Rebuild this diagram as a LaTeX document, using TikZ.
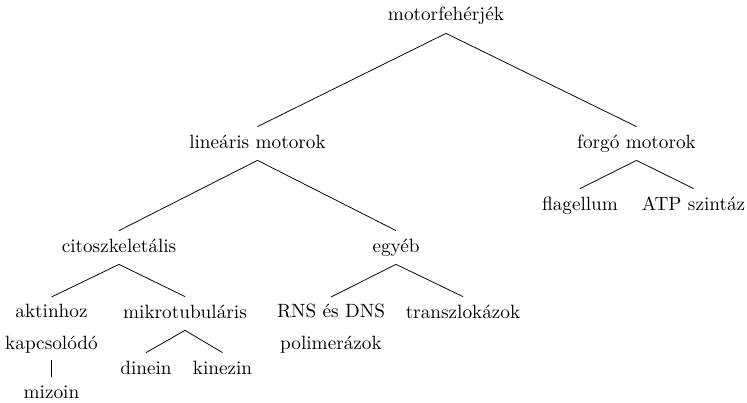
\documentclass[tikz,border=0pt]{standalone}

\begin{document}
\begin{tikzpicture}[x=0.52pt,y=-0.52pt]
\tikzset{KnotStyle/.style ={inner sep=3.33pt, text height=7.6pt, text depth=2.9pt, anchor=base}}
\tikzset{StackStyle/.style ={inner sep=3.33pt, align=center, anchor=north}}
\tikzset{LinkStyle/.style ={color = black, line width=0.4pt}}
\useasboundingbox (0,0) rectangle (747,402);
% levels of the tree
\node[KnotStyle] (motor) at (446,21) {motorfehérjék};
\node[KnotStyle] (linear) at (257.5,148) {lineáris motorok};
\node[KnotStyle] (forgo) at (636.5,148) {forgó motorok};
\node[KnotStyle] (cito) at (119,252) {citoszkeletális};
\node[KnotStyle] (egyeb) at (396,252) {egyéb};
\node[StackStyle] (aktin) at (51.5,297) {aktinhoz\\[4.6pt]kapcsolódó};
\node[KnotStyle] (mikro) at (185,318) {mikrotubuláris};
\node[StackStyle] (rns) at (331,297) {RNS és DNS\\[4.6pt]polimerázok};
\node[KnotStyle] (transz) at (463,318) {transzlokázok};
\node[KnotStyle] (mizoin) at (aktin.south |- 0,398) {mizoin};
\node[KnotStyle] (dinein) at (146,374) {dinein};
\node[KnotStyle] (kinezin) at (222.5,374) {kinezin};
\node[KnotStyle] (flag) at (580,210) {flagellum};
\node[KnotStyle] (atp) at (693.5,210) {ATP szintáz};
% edges
\begin{scope}[LinkStyle]
\draw (motor.south) -- (linear.north);
\draw (motor.south) -- (forgo.north);
\draw (linear.south) -- (cito.north);
\draw (linear.south) -- (egyeb.north);
\draw (forgo.south) -- (flag.north);
\draw (forgo.south) -- (atp.north);
\draw (cito.south) -- (aktin.north);
\draw (cito.south) -- (mikro.north);
\draw (egyeb.south) -- (rns.north);
\draw (egyeb.south) -- (transz.north);
\draw (mikro.south) -- (dinein.north);
\draw (mikro.south) -- (kinezin.north);
\draw (aktin.south) -- (mizoin.north);
\end{scope}
\end{tikzpicture}
\end{document}
